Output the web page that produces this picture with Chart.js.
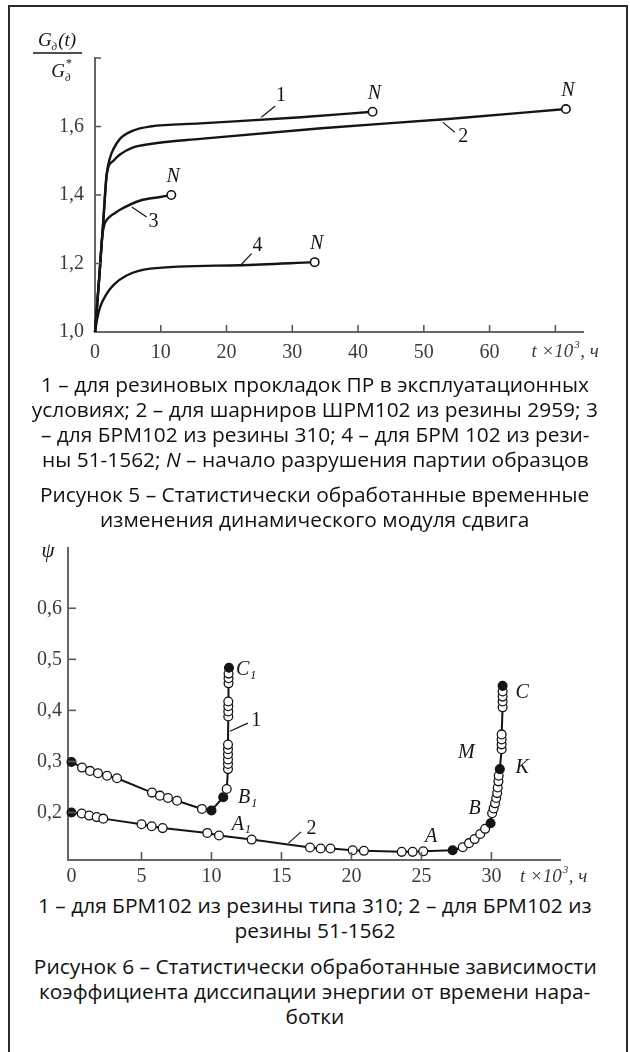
<!DOCTYPE html>
<html><head><meta charset="utf-8">
<script src="https://cdn.jsdelivr.net/npm/chart.js@4"></script>
<style>
html,body{margin:0;padding:0;background:#fff;}
#page{position:relative;width:630px;height:1052px;overflow:hidden;background:#fff;}
#frame{position:absolute;left:8px;top:5px;width:616px;height:1100px;border:2px solid #2b2b2b;}
canvas{position:absolute;left:0;}
.cap{position:absolute;left:0;width:630px;text-align:center;font-family:"Open Sans";font-size:20.5px;line-height:26px;color:#111;white-space:nowrap;}
.cap .in{display:inline-block;transform-origin:50% 50%;}
</style></head>
<body><div id="page"><div id="frame"></div>
<canvas id="c1" width="630" height="372" style="top:0px"></canvas>
<canvas id="c2" width="630" height="360" style="top:530px"></canvas>
<div class="cap" style="top:371px"><span class="in" id="l1">1 – для резиновых прокладок ПР в эксплуатационных</span></div>
<div class="cap" style="top:396px"><span class="in">условиях; 2 – для шарниров ШРМ102 из резины 2959; 3</span></div>
<div class="cap" style="top:421px"><span class="in">– для БРМ102 из резины 310; 4 – для БРМ 102 из рези-</span></div>
<div class="cap" style="top:446px"><span class="in">ны 51-1562; <i>N</i> – начало разрушения партии образцов</span></div>
<div class="cap" style="top:481px"><span class="in">Рисунок 5 – Статистически обработанные временные</span></div>
<div class="cap" style="top:506px"><span class="in">изменения динамического модуля сдвига</span></div>
<div class="cap" style="top:892px"><span class="in">1 – для БРМ102 из резины типа 310; 2 – для БРМ102 из</span></div>
<div class="cap" style="top:917px"><span class="in">резины 51-1562</span></div>
<div class="cap" style="top:953px"><span class="in">Рисунок 6 – Статистически обработанные зависимости</span></div>
<div class="cap" style="top:978px"><span class="in">коэффициента диссипации энергии от времени нара-</span></div>
<div class="cap" style="top:1003px"><span class="in">ботки</span></div>
</div>
<script>
// ---------- Figure 5 data ----------
const fig5TicksX = [0,10,20,30,40,50,60,70];
const fig5TicksY = [1.0,1.2,1.4,1.6,1.8];
const curve1T = [0,0.65,1.27,1.78,2.3,2.8,3.8,5.8,8.4,16,31.3,42.2];
const curve1G = [1.0,1.16,1.326,1.46,1.51,1.534,1.564,1.588,1.600,1.609,1.627,1.643];
const curve2T = [0,0.65,1.27,1.78,2.8,3.8,5.8,8.4,16,34.4,53.7,71.6];
const curve2G = [1.0,1.16,1.326,1.46,1.50,1.518,1.539,1.549,1.564,1.595,1.622,1.651];
const curve3T = [0,0.65,1.1,1.45,2.0,3.0,3.8,6.9,9.9,11.6];
const curve3G = [1.0,1.16,1.28,1.315,1.332,1.347,1.357,1.384,1.394,1.40];
const curve4T = [0,0.3,0.76,1.78,2.8,4.8,8.4,22.1,33.4];
const curve4G = [1.0,1.035,1.072,1.112,1.137,1.165,1.185,1.195,1.204];

// ---------- Figure 6 data ----------
const fig6TicksX = [0,5,10,15,20,25,30];
const fig6TicksY = [0.2,0.3,0.4,0.5,0.6];
const series1T = [0,0.75,1.32,1.89,2.54,3.25,5.75,6.32,6.89,7.54,9.32,10.0,10.84,11.09,
  11.18,11.18,11.18,11.18,11.18,11.18,11.2,11.2,11.2,11.2,11.22,11.22,11.22,11.25];
const series1Psi = [0.299,0.288,0.2815,0.277,0.272,0.267,0.239,0.233,0.2285,0.223,0.207,0.204,0.230,0.246,
  0.285,0.295,0.304,0.314,0.324,0.333,0.388,0.398,0.408,0.4175,0.453,0.463,0.472,0.4835];
const series1Filled = [1,0,0,0,0,0,0,0,0,0,0,1,1,0, 0,0,0,0,0,0,0,0,0,0,0,0,0,1];
const series2T = [0,0.73,1.27,1.8,2.27,5.0,5.73,6.51,9.7,10.54,12.87,17.04,17.8,18.5,20.09,20.89,
  23.59,24.37,25.13,27.23,27.95,28.4,28.8,29.2,29.55,29.94,30.05,30.16,30.26,30.34,30.41,30.45,30.5,30.52,
  30.6,30.73,30.73,30.73,30.73,30.8,30.8,30.8,30.8,30.8];
const series2Psi = [0.2,0.198,0.194,0.191,0.188,0.177,0.173,0.1695,0.160,0.155,0.147,0.1315,0.1295,0.1295,0.126,0.125,
  0.123,0.123,0.124,0.126,0.132,0.140,0.148,0.158,0.168,0.179,0.1985,0.208,0.218,0.2285,0.238,0.249,0.261,0.272,
  0.285,0.324,0.3335,0.343,0.353,0.406,0.4175,0.427,0.437,0.448];
const series2Filled = [1,0,0,0,0,0,0,0,0,0,0,0,0,0,0,0,0,0,0,1,0,0,0,0,0,1,0,0,0,0,0,0,0,0,1,0,0,0,0,0,0,0,0,1];

// ---------- helpers ----------
const pts = (xs, ys) => xs.map((v,i)=>({x:v,y:ys[i]}));
const comma = v => (Math.round(v*10)/10).toFixed(1).replace('.',',');
const INK = '#151515';
const LBL = '#3c3c3c';
const SERIF = '"Liberation Serif", "Times New Roman", serif';
function txt(ctx,s,x,y,font,align,color){ctx.font=font;ctx.textAlign=align||'center';ctx.textBaseline='middle';ctx.fillStyle=color||INK;ctx.fillText(s,x,y);}
function subLabel(ctx,main,sub,x,y){
  ctx.font='italic 20px '+SERIF;ctx.textAlign='left';ctx.textBaseline='middle';ctx.fillStyle=INK;
  ctx.fillText(main,x,y);const w=ctx.measureText(main).width;
  ctx.font='italic 12px '+SERIF;ctx.fillText(sub,x+w+1,y+6);
}
function leader(ctx,x1,y1,x2,y2){ctx.save();ctx.strokeStyle=INK;ctx.lineWidth=1.2;ctx.beginPath();ctx.moveTo(x1,y1);ctx.lineTo(x2,y2);ctx.stroke();ctx.restore();}
function insideTicks(chart,xLen,yLen){
  const {ctx,chartArea:a,scales:{x,y}}=chart;
  ctx.save();ctx.strokeStyle='#5a5a5a';ctx.lineWidth=1.6;
  x.ticks.forEach(t=>{if(t.value===0)return;const px=x.getPixelForValue(t.value);ctx.beginPath();ctx.moveTo(px,a.bottom);ctx.lineTo(px,a.bottom-xLen);ctx.stroke();});
  y.ticks.forEach(t=>{const py=y.getPixelForValue(t.value);if(Math.abs(py-a.bottom)<1)return;ctx.beginPath();ctx.moveTo(a.left,py);ctx.lineTo(a.left+yLen,py);ctx.stroke();});
  ctx.restore();
}
const tickFont = {family:SERIF,size:20};
function axisTitle(ctx,bx,by){
  ctx.font='italic 19px '+SERIF;
  txt(ctx,'t ×10',bx,by,'italic 19px '+SERIF,'left',LBL);
  const w1=ctx.measureText('t ×10').width;
  txt(ctx,'3',bx+w1+1,by-7,'italic 11px '+SERIF,'left',LBL);
  txt(ctx,', ч',bx+w1+7,by,'italic 19px '+SERIF,'left',LBL);
}

// ---------- Figure 5 chart ----------
const lastOnly = r => ctx => ctx.dataIndex===ctx.dataset.data.length-1 ? r : 0;
function fig5ds(t,g){return {data:pts(t,g),borderColor:INK,borderWidth:2.4,cubicInterpolationMode:'monotone',
  pointRadius:lastOnly(4.2),pointHoverRadius:0,pointBackgroundColor:'#fff',pointBorderColor:INK,pointBorderWidth:1.6,clip:false};}

const fig5Plugin = {id:'fig5',afterDraw(chart){
  const {ctx,chartArea:a,scales:{x,y}}=chart;
  insideTicks(chart,7,6);
  ctx.save();
  const cx=a.left-38, cy=a.top-17;
  ctx.font='italic 19px '+SERIF;const wG=ctx.measureText('G').width, wT=ctx.measureText('(t)').width;
  ctx.font='italic 11px '+SERIF;const wS=ctx.measureText('д').width;
  let sx=cx-(wG+wS+1+wT)/2;
  txt(ctx,'G',sx,cy,'italic 19px '+SERIF,'left');
  txt(ctx,'д',sx+wG,cy+6,'italic 11px '+SERIF,'left');
  txt(ctx,'(t)',sx+wG+wS+1,cy,'italic 19px '+SERIF,'left');
  ctx.strokeStyle=INK;ctx.lineWidth=1.3;ctx.beginPath();ctx.moveTo(a.left-62,a.top-5);ctx.lineTo(a.left-13,a.top-5);ctx.stroke();
  sx=a.left-34-(wG+wS)/2;
  txt(ctx,'G',sx,a.top+14,'italic 19px '+SERIF,'left');
  txt(ctx,'д',sx+wG,a.top+20,'italic 11px '+SERIF,'left');
  txt(ctx,'*',sx+wG+1,a.top+6,'12px '+SERIF,'left');
  const L=(t1,g1,t2,g2)=>leader(ctx,x.getPixelForValue(t1),y.getPixelForValue(g1),x.getPixelForValue(t2),y.getPixelForValue(g2));
  const T=(s,t,g)=>txt(ctx,s,x.getPixelForValue(t),y.getPixelForValue(g),'20px '+SERIF);
  L(25.3,1.627,27.4,1.66); T('1',28.3,1.69);
  L(52.9,1.612,54.7,1.583); T('2',56.0,1.569);
  L(5.6,1.365,7.85,1.336); T('3',8.9,1.321);
  L(22.0,1.192,23.8,1.229); T('4',24.7,1.253);
  [[curve1T,curve1G],[curve2T,curve2G],[curve3T,curve3G],[curve4T,curve4G]].forEach(([ts,gs])=>{
    const n=ts.length-1;txt(ctx,'N',x.getPixelForValue(ts[n])+2,y.getPixelForValue(gs[n])-18,'italic 20px '+SERIF);
  });
  axisTitle(ctx,x.getPixelForValue(70)-24,a.bottom+20);
  ctx.restore();
}};

new Chart(document.getElementById('c1'),{
  type:'line',
  data:{datasets:[fig5ds(curve1T,curve1G),fig5ds(curve2T,curve2G),fig5ds(curve3T,curve3G),fig5ds(curve4T,curve4G)]},
  options:{responsive:false,animation:false,events:[],
    layout:{padding:{left:0,right:47,top:58,bottom:0}},
    plugins:{legend:{display:false},tooltip:{enabled:false}},
    scales:{
      x:{type:'linear',min:0,max:74.2,
        afterBuildTicks:s=>{s.ticks=fig5TicksX.map(v=>({value:v}));},
        afterFit:s=>{s.height=40;},
        grid:{drawOnChartArea:false,drawTicks:false},border:{color:'#666',width:2},
        ticks:{padding:9,color:LBL,font:tickFont,maxRotation:0,autoSkip:false,callback:v=>v===70?'':String(v)}},
      y:{type:'linear',min:1.0,max:1.8,
        afterBuildTicks:s=>{s.ticks=fig5TicksY.map(v=>({value:v}));},
        afterFit:s=>{s.width=95;},
        grid:{drawOnChartArea:false,drawTicks:false},border:{color:'#666',width:2},
        ticks:{padding:11,color:LBL,font:tickFont,autoSkip:false,callback:v=>v>1.79?'':comma(v)}}
    }},
  plugins:[fig5Plugin]
});

// ---------- Figure 6 chart ----------
function fig6ds(t,p,f){return {data:pts(t,p),borderColor:INK,borderWidth:2,tension:0,
  pointRadius:4.4,pointHoverRadius:0,pointBorderColor:INK,pointBorderWidth:1.3,
  pointBackgroundColor:f.map(v=>v?INK:'#fff'),clip:false};}

const fig6Plugin = {id:'fig6',afterDraw(chart){
  const {ctx,chartArea:a,scales:{x,y}}=chart;
  insideTicks(chart,8,8);
  ctx.save();
  const X=t=>x.getPixelForValue(t), Y=p=>y.getPixelForValue(p);
  const I='italic 20px '+SERIF;
  txt(ctx,'ψ',a.left-20,a.top+3,'italic 21px '+SERIF);
  subLabel(ctx,'C','1',X(11.75),Y(0.48));
  subLabel(ctx,'B','1',X(11.9),Y(0.228));
  subLabel(ctx,'A','1',X(11.45),Y(0.177));
  leader(ctx,X(11.32),Y(0.359),X(12.6),Y(0.375));
  txt(ctx,'1',X(13.2),Y(0.379),'20px '+SERIF);
  leader(ctx,X(15.5),Y(0.140),X(16.4),Y(0.162));
  txt(ctx,'2',X(17.15),Y(0.168),'20px '+SERIF);
  txt(ctx,'A',X(25.7),Y(0.152),I);
  txt(ctx,'B',X(28.8),Y(0.207),I);
  txt(ctx,'M',X(28.2),Y(0.317),I);
  txt(ctx,'K',X(32.2),Y(0.288),I);
  txt(ctx,'C',X(32.2),Y(0.434),I);
  axisTitle(ctx,a.right-40,a.bottom+17);
  ctx.restore();
}};

new Chart(document.getElementById('c2'),{
  type:'line',
  data:{datasets:[fig6ds(series1T,series1Psi,series1Filled),fig6ds(series2T,series2Psi,series2Filled)]},
  options:{responsive:false,animation:false,events:[],
    layout:{padding:{left:0,right:70,top:15,bottom:0}},
    plugins:{legend:{display:false},tooltip:{enabled:false}},
    scales:{
      x:{type:'linear',min:-0.25,max:34.9,
        afterBuildTicks:s=>{s.ticks=fig6TicksX.map(v=>({value:v}));},
        afterFit:s=>{s.height=30;},
        grid:{drawOnChartArea:false,drawTicks:false},border:{color:'#666',width:2},
        ticks:{padding:5,color:LBL,font:tickFont,maxRotation:0,autoSkip:false,callback:v=>String(v)}},
      y:{type:'linear',min:0.107,max:0.718,
        afterBuildTicks:s=>{s.ticks=fig6TicksY.map(v=>({value:v}));},
        afterFit:s=>{s.width=68;},
        grid:{drawOnChartArea:false,drawTicks:false},border:{color:'#666',width:2},
        ticks:{padding:6,color:LBL,font:tickFont,autoSkip:false,callback:v=>comma(v)}}
    }},
  plugins:[fig6Plugin]
});

// ---------- caption width fitting ----------
const ref=document.getElementById('l1');
const k=548/ref.getBoundingClientRect().width;
document.querySelectorAll('.cap .in').forEach(e=>{e.style.transform='scaleX('+k+')';});
</script>
</body></html>
